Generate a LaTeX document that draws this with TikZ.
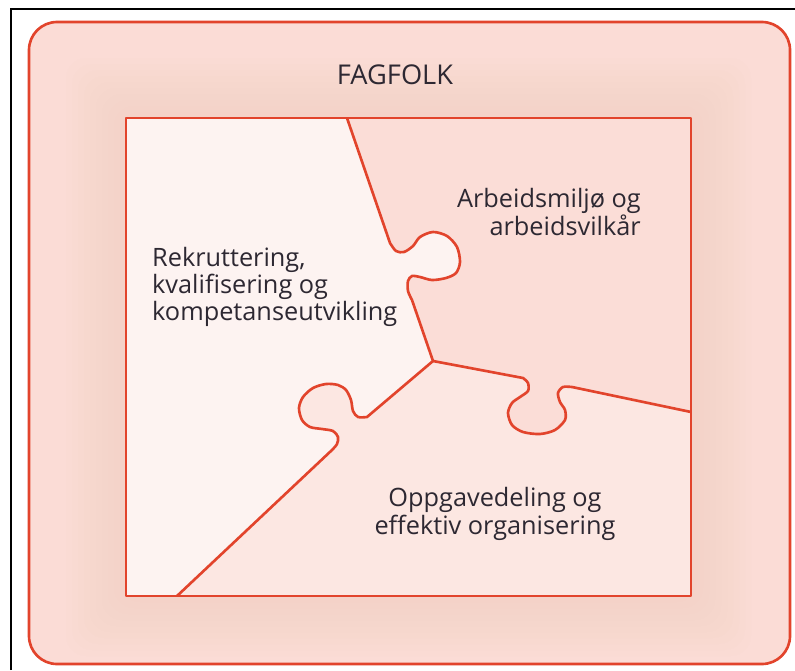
\documentclass[tikz,border=0pt]{standalone}
\usepackage{fontspec}
\setsansfont{Open Sans}

\definecolor{puzzlered}{RGB}{226,68,44}
\definecolor{outerpink}{RGB}{251,220,214}
\definecolor{glowpink}{RGB}{244,180,165}
\definecolor{piecelight}{RGB}{253,243,241}
\definecolor{piecemid}{RGB}{252,231,226}
\definecolor{piecedark}{RGB}{251,221,215}
\definecolor{labelgray}{RGB}{45,40,50}

% the three cuts of the puzzle, all meeting in (433,361)
\newcommand{\cutTop}{(347,118) -- plot[smooth] coordinates {(390,243) (396,251) (404,252) (413,246) (420,237) (433,232) (447,236) (457,247) (460,262) (456,273) (446,278) (432,280) (420,277) (412,276) (408,281) (408,291) (412,300)} -- (433,361)}
\newcommand{\cutRight}{(691,412) -- plot[smooth] coordinates {(572,387) (563,387) (558,393) (560,402) (565,410) (565,420) (555,430) (540,434) (523,432) (512,425) (508,413) (512,403) (520,397) (528,391) (528,383) (523,378)} -- (433,361)}
\newcommand{\cutLeft}{(433,361) -- plot[smooth] coordinates {(367,417) (358,417) (353,411) (351,400) (346,390) (338,385) (326,384) (313,388) (303,397) (299,408) (302,420) (310,427) (322,429) (333,431) (338,437) (337,444) (332,450)} -- (177,596)}

\begin{document}
\begin{tikzpicture}[x=0.02cm, y=-0.02cm,
    cut/.style={draw=puzzlered, line width=1.5pt, line join=round},
    label/.style={text=labelgray, font=\sffamily\fontsize{14.4}{15.5}\selectfont}]
  \useasboundingbox (0,0) rectangle (795,670);
  \fill[white] (0,0) rectangle (795,670);
  \draw[line width=1.4pt] (11,670) -- (11,9) -- (795,9);

  % outer frame with a soft glow round the square
  \fill[outerpink, rounded corners=0.56cm] (29,22) rectangle (790,664);
  \foreach \d in {60,54,...,6}
    \fill[glowpink, opacity=0.022, rounded corners=0.4cm] (126-\d,118-\d) rectangle (691+\d,596+\d);
  \draw[cut, rounded corners=0.56cm] (29,22) rectangle (790,664);

  % puzzle pieces
  \fill[piecedark] (126,118) rectangle (691,596);
  \fill[piecelight] (126,118) -- \cutTop -- \cutLeft -- (126,596) -- cycle;
  \fill[piecemid] (177,596) -- (691,596) -- \cutRight -- \cutLeft -- cycle;
  \draw[cut] \cutTop;
  \draw[cut] \cutRight;
  \draw[cut] \cutLeft;
  \draw[cut] (126,118) rectangle (691,596);

  \node[label, font=\sffamily\fontsize{15.5}{17}\selectfont] (fagfolk) at (395,75) {FAGFOLK};
  \node[label, align=left, anchor=west] (rekruttering) at (146,287) {Rekruttering,\\kvalifisering og\\kompetanseutvikling};
  \node[label, align=right, anchor=east] (arbeidsmiljo) at (647,212) {Arbeidsmiljø og\\arbeidsvilkår};
  \node[label, align=center] (oppgavedeling) at (495,514) {Oppgavedeling og\\effektiv organisering};
\end{tikzpicture}
\end{document}
